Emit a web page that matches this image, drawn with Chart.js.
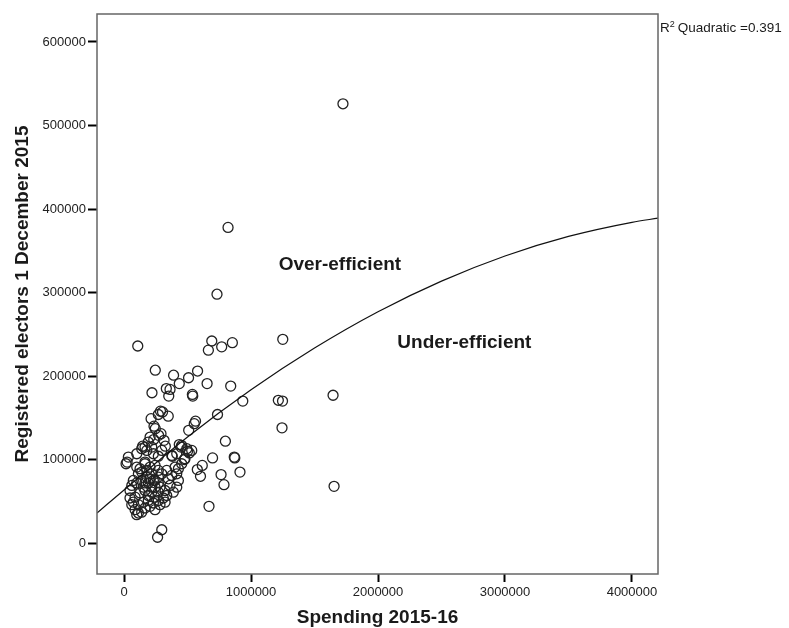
<!DOCTYPE html>
<html>
<head>
<meta charset="utf-8">
<script src="https://cdn.jsdelivr.net/npm/chart.js@4.4.1/dist/chart.umd.min.js"></script>
<style>
  html, body { margin: 0; padding: 0; background: #fff; }
  #wrap { width: 789px; height: 628px; position: relative; }
</style>
</head>
<body>
<div id="wrap"><canvas id="chart"></canvas></div>
<script>
// Spending 2015-16 (x) against registered electors (y), one entry per area
const spending = [
  1724000, 819000, 732000, 108000, 691000, 664000, 769000, 853000, 1250000, 246000,
  390000, 579000, 508000, 435000, 654000, 840000, 220000, 333000, 362000, 352000,
  538000, 541000, 935000, 1215000, 1248000, 1646000, 736000, 563000, 553000, 509000,
  1244000, 213000, 287000, 303000, 270000, 348000, 236000, 246000, 291000, 272000,
  205000, 234000, 315000, 325000, 146000, 179000, 218000, 435000, 449000, 500000,
  514000, 380000, 475000, 798000, 697000, 868000, 872000, 577000, 616000, 602000,
  764000, 787000, 913000, 669000, 297000, 264000, 1654000, 24000, 16000, 100000,
  34000, 191000, 165000, 139000, 231000, 270000, 297000, 376000, 415000, 454000,
  494000, 480000, 533000, 165000, 126000, 454000, 428000, 73000, 61000, 47000,
  113000, 139000, 179000, 218000, 244000, 191000, 152000, 218000, 270000, 297000,
  336000, 349000, 376000, 402000, 415000, 428000, 362000, 323000, 270000, 244000,
  191000, 126000, 87000, 73000, 113000, 152000, 191000, 231000, 270000, 309000,
  336000, 388000, 415000, 47000, 61000, 87000, 113000, 139000, 165000, 205000,
  244000, 283000, 323000, 100000, 165000, 205000, 244000, 270000, 179000, 139000,
  231000, 205000, 270000, 165000, 244000, 283000, 218000, 165000, 100000, 100000
];
const electors = [
  526000, 378000, 298000, 236000, 242000, 231000, 235000, 240000, 244000, 207000,
  201000, 206000, 198000, 191000, 191000, 188000, 180000, 185000, 184000, 176000,
  178000, 176000, 170000, 171000, 170000, 177000, 154000, 146000, 143000, 135000,
  138000, 149000, 158000, 157000, 154000, 152000, 140000, 137000, 131000, 129000,
  127000, 124000, 123000, 116000, 116000, 111000, 115000, 118000, 115000, 110000,
  108000, 104000, 100000, 122000, 102000, 103000, 102000, 88000, 93000, 80000,
  82000, 70000, 85000, 44000, 16000, 7000, 68000, 97000, 95000, 107000,
  103000, 121000, 115000, 113000, 107000, 104000, 111000, 105000, 107000, 117000,
  113000, 101000, 111000, 97000, 89000, 95000, 89000, 75000, 69000, 63000,
  83000, 75000, 79000, 83000, 75000, 72000, 67000, 67000, 72000, 83000,
  87000, 77000, 81000, 91000, 83000, 75000, 69000, 63000, 61000, 55000,
  57000, 60000, 55000, 49000, 46000, 49000, 51000, 48000, 51000, 54000,
  57000, 61000, 67000, 54000, 46000, 40000, 36000, 37000, 42000, 44000,
  40000, 46000, 49000, 34000, 95000, 91000, 93000, 87000, 87000, 85000,
  75000, 77000, 79000, 72000, 67000, 67000, 61000, 63000, 72000, 91000
];

// quadratic fit line
const fitSpending = [-213000, 0, 500000, 1000000, 1500000, 2000000, 2500000, 3000000, 3500000, 4000000, 4205000];
const fitElectors = [36000, 63600, 127000, 183500, 233500, 277000, 313700, 343800, 367200, 384100, 389000];

const xTicks = [0, 1000000, 2000000, 3000000, 4000000];
const yTicks = [0, 100000, 200000, 300000, 400000, 500000, 600000];

const notes = [
  { text: 'Over-efficient', x: 1700000, y: 333000 },
  { text: 'Under-efficient', x: 2680000, y: 240000 }
];
const r2Text = 'Quadratic =0.391';

const FONT = "'Liberation Sans', Arial, Helvetica, sans-serif";
const INK = '#1a1a1a';

const framePlugin = {
  id: 'frame',
  afterDatasetsDraw(chart) {
    const { ctx, chartArea: a, scales } = chart;
    ctx.save();
    ctx.strokeStyle = '#666';
    ctx.lineWidth = 1.5;
    ctx.strokeRect(a.left, a.top, a.right - a.left, a.bottom - a.top);

    ctx.fillStyle = INK;
    ctx.font = 'bold 19px ' + FONT;
    ctx.textAlign = 'center';
    ctx.textBaseline = 'middle';
    notes.forEach(n => ctx.fillText(n.text, scales.x.getPixelForValue(n.x), scales.y.getPixelForValue(n.y)));

    // R² label beside the top right corner
    ctx.textAlign = 'left';
    ctx.textBaseline = 'alphabetic';
    ctx.font = '13.5px ' + FONT;
    let px = a.right + 2;
    const base = a.top + 18;
    ctx.fillText('R', px, base);
    px += ctx.measureText('R').width;
    ctx.font = '9px ' + FONT;
    ctx.fillText('2', px, base - 5);
    px += ctx.measureText('2').width + 3;
    ctx.font = '13.5px ' + FONT;
    ctx.fillText(r2Text, px, base);
    ctx.restore();
  }
};

Chart.defaults.font.family = FONT;
Chart.defaults.color = INK;

const plain = v => String(v);

new Chart('chart', {
  type: 'scatter',
  data: {
    datasets: [
      {
        label: 'Areas',
        data: spending.map((v, i) => ({ x: v, y: electors[i] })),
        pointRadius: 5,
        pointBorderWidth: 1.3,
        pointBorderColor: '#222',
        pointBackgroundColor: 'rgba(0,0,0,0)',
        order: 2
      },
      {
        label: 'Quadratic fit',
        type: 'line',
        data: fitSpending.map((v, i) => ({ x: v, y: fitElectors[i] })),
        borderColor: '#111',
        borderWidth: 1.2,
        pointRadius: 0,
        cubicInterpolationMode: 'monotone',
        fill: false,
        order: 1
      }
    ]
  },
  options: {
    responsive: true,
    maintainAspectRatio: false,
    animation: false,
    layout: { padding: { left: 0, right: 131, top: 14, bottom: 0 } },
    plugins: { legend: { display: false }, tooltip: { enabled: false } },
    scales: {
      x: {
        type: 'linear',
        min: -213000, max: 4205000,
        afterBuildTicks: s => { s.ticks = xTicks.map(v => ({ value: v })); },
        afterFit: s => { s.height = 54; },
        grid: { drawOnChartArea: false, drawTicks: true, tickLength: 8, tickWidth: 2, tickColor: '#000' },
        border: { display: false },
        ticks: { font: { size: 13 }, color: '#222', padding: 3, maxRotation: 0, callback: plain },
        title: { display: true, text: 'Spending 2015-16', font: { size: 19, weight: 'bold', lineHeight: 1 }, color: INK, padding: { top: 2, bottom: 1 } }
      },
      y: {
        type: 'linear',
        min: -37000, max: 633500,
        afterBuildTicks: s => { s.ticks = yTicks.map(v => ({ value: v })); },
        afterFit: s => { s.width = 97; },
        grid: { drawOnChartArea: false, drawTicks: true, tickLength: 9, tickWidth: 2, tickColor: '#000' },
        border: { display: false },
        ticks: { font: { size: 13 }, color: '#222', padding: 2, callback: plain },
        title: { display: true, text: 'Registered electors 1 December 2015', font: { size: 19, weight: 'bold' }, color: INK, padding: { top: 11, bottom: 4 } }
      }
    }
  },
  plugins: [framePlugin]
});
</script>
</body>
</html>
